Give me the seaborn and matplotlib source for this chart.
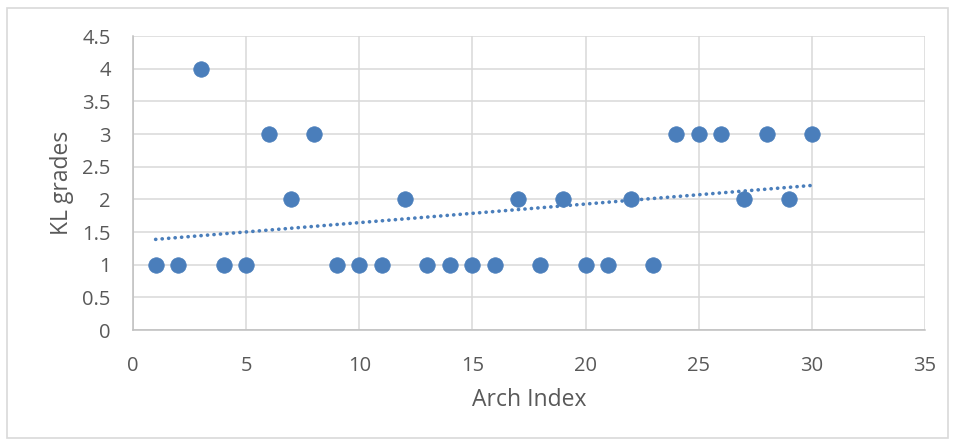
import numpy as np
import pandas as pd
import seaborn as sns
import matplotlib.pyplot as plt
from matplotlib.patches import Rectangle

arch_index = list(range(1, 31))
kl_grades = [1, 1, 4, 1, 1, 3, 2, 3, 1, 1, 1, 2, 1, 1, 1, 1, 2, 1, 2, 1, 1, 2, 1, 3, 3, 3, 2, 3, 2, 3]
x_ticks = [0, 5, 10, 15, 20, 25, 30, 35]
y_ticks = [0, 0.5, 1, 1.5, 2, 2.5, 3, 3.5, 4, 4.5]
y_tick_labels = ["0", "0.5", "1", "1.5", "2", "2.5", "3", "3.5", "4", "4.5"]

df = pd.DataFrame({"Arch Index": arch_index, "KL grades": kl_grades})

sns.set_style("white")
plt.rcParams['font.family'] = ['Open Sans', 'DejaVu Sans']

blue = "#4a7ebb"
grid = "#d9d9d9"
text_c = "#595959"

fig = plt.figure(figsize=(9.56, 4.45), dpi=100)
ax = fig.add_axes([133/956, 1 - 330/445, (925 - 133)/956, (330 - 36)/445])

# trend line (linear least squares, like Excel's linear trendline)
slope, intercept = np.polyfit(df["Arch Index"], df["KL grades"], 1)
xs = np.array([min(arch_index), max(arch_index)], dtype=float)
ax.plot(xs, slope * xs + intercept, color=blue, lw=2.6,
        linestyle=(0, (0.05, 1.75)), dash_capstyle='round', zorder=2)

sns.scatterplot(data=df, x="Arch Index", y="KL grades", ax=ax, color=blue,
                s=125, edgecolor=blue, linewidth=0.5, zorder=3)

ax.set_xlim(0, 35)
ax.set_ylim(0, 4.5)
ax.set_xticks(x_ticks)
ax.set_yticks(y_ticks)
ax.set_yticklabels(y_tick_labels)
ax.grid(True, color=grid, lw=1.1)
ax.set_axisbelow(True)
for s in ["top", "right"]:
    ax.spines[s].set_visible(False)
for s in ["left", "bottom"]:
    ax.spines[s].set_color("#bfbfbf")
    ax.spines[s].set_linewidth(1.1)
ax.tick_params(axis='both', length=0, labelsize=14.5, labelcolor=text_c)
ax.tick_params(axis='x', pad=19)
ax.tick_params(axis='y', pad=16)
ax.set_xlabel("Arch Index", fontsize=16.5, color=text_c, labelpad=8)
ax.set_ylabel("KL grades", fontsize=16.5, color=text_c, labelpad=6)

fig.patches.append(Rectangle((7/956, 7/445), 941/956, 430/445, transform=fig.transFigure,
                             fill=False, edgecolor="#d9d9d9", lw=1.2))

fig.savefig("out.png", dpi=100)
